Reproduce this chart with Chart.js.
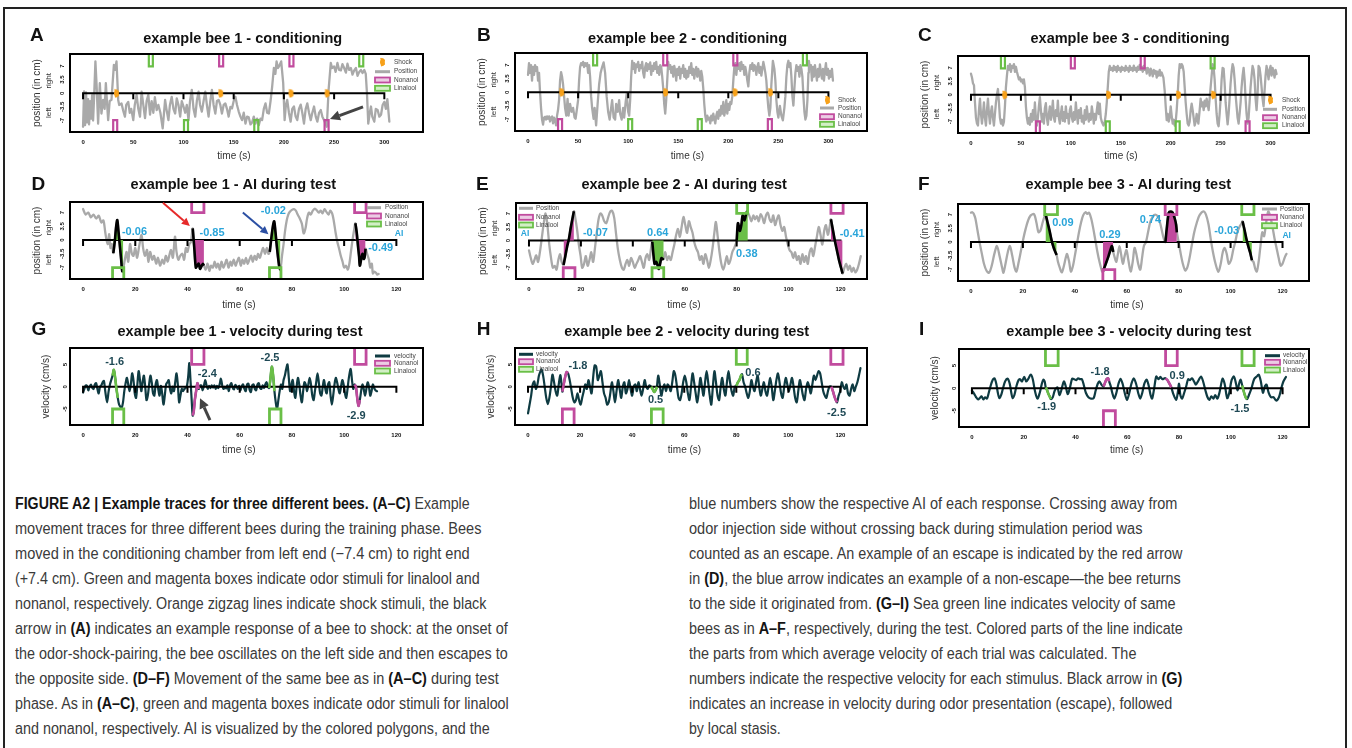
<!DOCTYPE html>
<html><head><meta charset="utf-8">
<script src="https://cdn.jsdelivr.net/npm/chart.js@4.4.0/dist/chart.umd.min.js"></script>
<style>
html,body{margin:0;padding:0;background:#fff;}
#page{position:relative;width:1352px;height:748px;overflow:hidden;font-family:"Liberation Sans",Arial,sans-serif;}
#frame{position:absolute;left:3px;top:7px;width:1344px;height:900px;border:2px solid #222;box-sizing:border-box;}
.cv{position:absolute;}
.cap{position:absolute;white-space:nowrap;font-size:16px;line-height:20px;color:#3a3a3a;transform-origin:0 0;}
.cap b{color:#141414;}
</style></head><body><div id="page"><div id="frame"></div></div>
<script>
// ================= DATA =================
const condXTicks = [0,50,100,150,200,250,300];
const testXTicks = [0,20,40,60,80,100,120];
const posYTicks = [-7,-3.5,0,3.5,7];
const velYTicks = [-5,0,5];

// conditioning position traces [time s, position cm]
const bee1CondPos = [[0,-8.6],[1,0.5],[2,-8.2],[3,0.2],[4,-7.5],[5,-1.5],[6,-8.0],[7,-2],[8,-6.5],[9,-0.5],[10,-7],[11,-1],[12.3,8.2],[13.5,2],[15,-7.8],[16.7,2.6],[18.3,-5.2],[20,-1.7],[21.5,-4],[22.7,2.6],[24,-3],[25,-6.9],[26.5,-2],[28.3,-1.7],[30.7,7.3],[32,6],[33.3,8.2],[35,-1.7],[36,-3],[38.3,-2.6],[40,-4.5],[41.7,-6],[43,-3],[45,-2.2],[46.5,-5],[48,-4],[50,-6.9],[51.5,-3],[53.3,-0.4],[55,-4],[56.7,-6],[58.3,0.4],[60,-3],[61.7,-6.4],[63.3,-2],[65,-0.4],[66.7,-5.5],[68.3,-2],[70,-5],[71.5,-1],[73.3,-4.3],[75,-3],[77,-5],[79.3,-9],[81.7,-1.7],[83,-4],[85,-6.9],[86.5,-3],[88.3,-0.9],[90,-4],[91.7,-5.2],[93.3,-1.3],[95,-3],[96.7,-6],[98.3,-2],[100,-3.4],[101.7,-5],[103.3,-3],[105,-6.9],[106.5,-2],[108.3,0.9],[110,-4],[111.7,-6],[113.3,-2],[115,0.4],[116.5,-3],[118.3,-4.7],[120,-2],[121.7,0.4],[123.3,-3],[125,-6],[126.7,-2],[128.3,0.9],[130,-3],[131.7,-5.2],[133.3,-2],[135,-1.7],[136.7,-3],[138.3,-5.2],[140,-3],[141.7,-2.6],[143.3,-4],[145,-6],[146.7,-3.5],[148.3,-3.9],[150,-2],[151.7,-0.9],[153.3,-3],[155,-4.7],[156.7,-6],[158.3,-6.9],[160,-5],[161.7,-7.8],[163.3,-6],[165,-6.2],[166.7,-8],[168.3,-7.5],[170,-6],[171.7,-7.8],[173.3,-6.5],[175,-8.2],[176.7,-6.5],[178.3,-6.9],[180,-4],[181.7,-2.6],[183.3,-5],[185,-5.2],[186.7,-2],[188.3,1.7],[190,6.5],[191.5,5],[192.7,8.2],[194,6.5],[195.3,7],[197.3,8.2],[199.3,2.6],[200.7,-6.9],[202,-3],[203.3,-1.7],[205,-5],[206.7,-7.3],[208.3,-4],[210,-3.4],[211.7,-6],[213.3,-6.9],[215,-4],[216.7,-2.9],[218.3,-5],[220,-7.8],[221.7,-4],[223.3,-2.6],[225,-5],[226.7,-6.9],[228.3,-5],[230,-3.4],[231.7,-6],[233.3,-7.3],[235,-5],[236.7,-4.3],[238.3,-6],[240,-6.9],[242.7,-8.6],[244.5,0.9],[246.7,7.8],[248,6.5],[250,6.9],[251.5,5.5],[253.3,7.8],[255,6],[256.7,5.9],[258.3,7.5],[260,6.5],[261.7,5.3],[263.3,7.6],[265,6],[266.7,6.5],[268.3,4.8],[270,5.9],[271.7,6.5],[273.3,4.5],[275,5.5],[276.7,6],[278.3,5.2],[280,6.0],[281.5,5],[282.7,0],[284,-7.8],[285.5,-5],[286.7,-3.4],[288,-6],[290,-7.3],[291.5,-4],[293.3,-4.3],[295,-6],[296.7,-5.5],[298.3,-3],[300,-2.2],[301.5,-4],[303,-1.5],[305,-7.3]];
const bee2CondPos = [[0,4.5],[1,7.5],[2,5],[3,7],[4,3],[5,6.5],[6,4.5],[7,7],[8,5.5],[9,6.5],[10,3],[11,5],[12,0],[13,-4],[14,-7],[15,-8.3],[16,-6.5],[17,-6.3],[18,-7],[19,-6.2],[20,-6.8],[21,-6.2],[22,-7.5],[23,-6.5],[24,-6.2],[25,-8],[26,-6.5],[27,-7.2],[28,-8.5],[29,-6],[30,-4.5],[31,-2],[32,3],[33,5.2],[34,4],[35,2],[36,-1],[37,-4],[38.2,-6],[39.5,-1.7],[40.5,-6],[42,-3],[43.5,-5],[45,-4],[46.5,-6.5],[47.5,-6.8],[49,-4],[50,-2],[51,3],[52,6.5],[53,7.5],[54,7],[55,7.8],[56,6.5],[57,7.5],[58,6.8],[59,7.5],[60,5],[61,7],[62,4],[63,-1],[64,-4],[65.5,-6.8],[66.5,-4],[68,-8.5],[69.5,-3],[71,2],[72.5,5],[74,6.5],[75.5,7.7],[77,5],[78.5,-1],[80,-5],[81.5,-7],[83,-4],[84,-2],[85.5,-6.5],[87,-7],[88,-3],[89.5,-5],[91,-2],[92,-5.5],[93.5,-7],[95,-4],[96,-6.5],[97.5,-2.5],[98.5,-0.4],[100,-5],[101,-6],[102,-2],[103,4],[104,8.1],[105,6],[106,7.5],[107,5],[108,7.2],[109,6.5],[110,7.8],[111,5.5],[112,7],[113,6.2],[114,7.8],[115,5],[116,3.8],[117,6.5],[118,7.5],[119,5.5],[120,7.2],[121,6],[122,7.7],[123,4.5],[124,6.8],[125,5.5],[126,7.5],[127,6],[128,7.8],[129,5],[130,6.5],[131,4.5],[132,7],[133,6.5],[134,4],[135,1],[136,-3],[137,-5.5],[138,-2],[139,3],[140,7.8],[141,6],[142,7],[143,5],[144,6.5],[145,4],[146,6.8],[147,5.5],[148,3],[149,6],[150,4.5],[151,6.5],[152,3.5],[153,6],[154,5],[155,7],[156,4],[157,6],[158,3.5],[159,5.5],[160,4],[161,6.5],[162,5],[163,7.5],[164,4.5],[165,6],[166,3.5],[167,5.5],[168,6.5],[169,4],[170,6],[171,5],[172,3],[173,5.5],[174,4],[175,1],[176,-3],[177,-6],[178,-7.5],[179,-6],[180,-7],[181,-6.5],[182,-8],[183,-6],[184,-7.2],[185,-5.5],[186,-6.8],[187,-8],[188,-6],[189,-5],[190,-6.8],[191,-4.5],[192,-6],[193,-3.5],[194,-5.5],[195,-2.5],[196,-6],[197,-4.5],[198,-2],[199,-5.5],[200,-3],[201,-4.5],[202,-2.5],[203,-3],[204,-1],[205,3],[206,6.5],[207,7.5],[208,4.5],[209,7],[210,6],[211,7.5],[212,5.5],[213,7.8],[214,6],[215,7],[216,4.5],[217,6.5],[218,5],[219,3],[220,1.5],[221,5],[222,7],[223,6],[224,7.5],[225,5.5],[226,7],[227,6.5],[228,4.5],[229,6.5],[230,7.5],[231,5],[232,6.5],[233,4.3],[234,6],[235,7.8],[236,6.5],[237,5],[238,3],[239,-1],[240,-4],[241,-6],[242,-4],[243,2],[244.5,8.1],[246,6],[247,3],[248,-2],[249,-5],[250,-6.5],[251.5,-3.5],[253,-6],[254.5,-7.2],[256,-4],[257,-1],[258,4],[259,7],[260,8.1],[261,6.5],[262,7.5],[263,4],[264,-1],[265,-3.4],[266,1],[267,5],[268,7],[269,5.5],[270,6.5],[271,4],[272,7],[273,6],[274,4],[275,-1],[276,-5],[277,-7],[278,-6],[279,-2],[280,5],[280.5,8.1],[281.5,6],[282.5,7],[283.5,3],[284.5,6.5],[285.5,4],[286.5,7],[287.5,5],[288.5,3],[289.5,6],[290.5,4],[291.5,7.2],[292.5,5],[293.5,3.5],[294.5,6],[295.5,3],[296.5,5.5],[297.5,7.5],[298.5,4.5],[299.5,6],[300.5,3.5],[301.5,5.5],[302.5,4],[303.5,6],[304.5,3]];
const bee3CondPos = [[0,5.5],[1,4.5],[2,3],[3,2.5],[4,-2],[5,-6],[6,-7.5],[7,-8],[8,-4],[9,-1],[10,-5],[11,-7.5],[12,-5],[13,-2],[14,-6],[15,-8],[16,-4],[17,-1],[18,-5],[19,-7.5],[20,-4.5],[21,-3],[22,-6],[23,-8],[24,-5],[25,-2],[26,0],[27,1.5],[28,-2],[29,-6],[30,-7.5],[31,-6.5],[32,-8],[33,-7],[34,-3],[35,2],[36,5],[37,7.5],[38,6.5],[39,8],[40,6],[41,7.5],[42,7],[43,8],[44,6],[45,7.3],[46,6],[47,5],[48,4],[49,4.5],[50,3.5],[51,4],[52,3],[53,4],[54,2],[55,-3],[56,-6],[57,-7.5],[58,-6],[59,-7.8],[60,-5],[61,-7],[62,-4],[63,-6.5],[64,-2],[65,-6],[66,-8],[67,-6],[68,-3],[69,-0.6],[70,-4],[71,-7],[72,-5],[73,-7.5],[74,-3.5],[75,-2.2],[76,-6],[77,-7.8],[78,-5],[79,-3],[80,-6.5],[81,-4.5],[82,-1.5],[83,-6],[84,-7],[85,-4],[86,-5.5],[87,-1.5],[88,-6],[89,-7.5],[90,-5],[91,-3],[92,-6.8],[93,-4.5],[94,-7],[95,-3],[96,-6],[97,-5],[98,-7.5],[99,-4],[100,-3],[101,-6],[102,-7],[103,-4.5],[104,-6.5],[105,-2],[106,-5],[107,-7.5],[108,-4],[109,-6],[110,-3.5],[111,-7],[112,-5.5],[113,-7.5],[114,-4],[115,-6.5],[116,-3],[117,-5.5],[118,-7],[119,-5],[120,-6.5],[121,-3],[122,-5],[123,-7.5],[124,-5],[125,-6.5],[126,-4],[127,-2],[128,-5],[129,-2.3],[130,-6],[131,-7],[132.7,-8],[134,-7],[135,-5],[136,-2],[137,2],[138,6],[139,7.5],[140,6.5],[141,7],[142,6.2],[143,7.5],[144,6.5],[145,7.2],[146,6],[147,7.5],[148,6.5],[149,7],[150,6],[151,7.3],[152,6.5],[153,7],[154,6.2],[155,7.5],[156,6.5],[157,7],[158,6],[159,7.5],[160,6.5],[161,7],[162,6.2],[163,7.6],[164,6.5],[165,7],[166,6],[167,7.3],[168,6.5],[169,7.8],[170,6.5],[171,7.2],[172,6],[173,7.5],[174,6.5],[175,7],[176,5.5],[177,7],[178,6.5],[179,5],[180,6.8],[181,6],[182,4.8],[183,6.5],[184,5.5],[185,6.2],[186,4.5],[187,6],[188,5],[189,6.5],[190,5],[191,5.8],[192.7,4.5],[194,1],[195,-3],[196,-6.6],[197,-5],[198,-7],[199,-6],[200,-3],[201,-5.5],[202,-7.5],[203,-6.5],[204,-8],[205,-7],[206,-4],[207,0],[208,5],[209,8],[210,7],[211,8],[212,7.5],[213,6],[214,2],[215,-2],[216,-5],[217,-7.5],[218,-8],[219,-7],[220,-4],[221,-2.3],[222,-4],[223,-6],[224,-8],[225,-7],[226,-5],[227.7,-7.5],[229,-4],[230,-1],[231,-3],[232,-2],[233,-4],[234,-1.5],[235,-3],[236,-1],[237,-2.5],[238,-4],[239,-1],[240,2],[241,5],[242,8],[243,7],[244,4],[245,-1],[246,-5],[247,-7.5],[248,-8.2],[249,-5],[250,-1],[251,4],[252,7],[253,6.8],[254,3],[255,-2],[256,-5],[257,-7.7],[258,-5],[259,-1],[260,3],[261,6],[262,8],[263,7],[264,4],[265,0],[266,-3],[267,-6],[268,-7.5],[269,-5],[270,-2],[271,2],[272,5],[273,7],[274,4],[275,-1],[276,-5],[277,-7.5],[278,-6],[279,-2],[280,2],[281,5],[282,7.5],[283,6.5],[284,4],[285,-1],[286,-4],[287,0],[288,7.5],[289,7],[290,5],[291,2],[292,-1],[293,-3],[294,1],[295,5],[296,7.5],[297,6],[298,4],[299,6.5],[300,7.5],[301,5],[302,7],[303,6],[304,4.5],[305,6.5],[306,5.4]];

// shock times (s)
const bee1CondShocks = [33.3,137,207,243];
const bee2CondShocks = [33.6,137.3,206.8,242];
const bee3CondShocks = [33.7,137.7,207.7,242.7];

// odor stimuli: [start s, end s, odor (N=nonanol, L=linalool), side (+1 right, -1 left)]
const bee1CondStim = [[30,34,'N',-1],[65.5,69.5,'L',1],[100.5,104.5,'L',-1],[135.5,139.5,'N',1],[170.5,174.5,'L',-1],[205.5,209.5,'N',1],[240.5,244.5,'N',-1],[275,279,'L',1]];
const bee2CondStim = [[30,34,'N',-1],[65,69,'L',1],[100,104,'L',-1],[135,139,'N',1],[169.5,173.5,'L',-1],[205,209,'N',1],[239.5,243.5,'N',-1],[274.5,278.5,'L',1]];
const bee3CondStim = [[30,34,'L',1],[65,69,'N',-1],[100,104,'N',1],[135,139,'L',-1],[170,174,'N',1],[205,209,'L',-1],[240,244,'L',1],[275,279,'N',-1]];
const bee1TestStim = [[11.3,15.6,'L',-1],[41.6,46.3,'N',1],[71.4,75.8,'L',-1],[104,108.4,'N',1]];
const bee2TestStim = [[13.2,17.7,'N',-1],[47.4,51.9,'L',-1],[80,84.2,'L',1],[116.3,121,'N',1]];
const bee3TestStim = [[28.4,33.3,'L',1],[50.8,55.4,'N',-1],[74.8,79.3,'N',1],[104.3,109,'L',1]];

// test position traces [time s, position cm]
const bee1TestPos = [[0,7.9],[1,6.5],[2,7],[3,5.8],[4,6.5],[5,5.5],[6,6.2],[7,4.5],[7.8,5],[8.5,2],[9,0],[9.5,-1],[10,1.5],[10.5,-2],[11,-1],[11.6,-3.3],[12.2,0],[12.6,3],[13.1,5.1],[13.6,2],[14.1,-1.5],[14.6,-5],[15.0,-7.9],[15.4,-7.2],[16,-5],[16.7,-3],[17.3,-5.5],[18,-1],[18.7,-3.5],[19.3,-4],[20,-2],[20.7,-4.5],[21.5,-1.5],[22.4,1.3],[23,-2],[23.7,-4],[24.5,-2.5],[25,-5.5],[25.7,-3],[26.5,-5],[27.2,-4],[28,-6],[28.7,-4.5],[29.5,-6.5],[30.3,-5],[31,-6],[31.7,-4],[32.4,-5.5],[33,-4],[33.7,-2.5],[34.4,-4.5],[35.2,0.9],[35.8,-3],[36.5,-5],[37.2,-4],[38,-3.5],[38.7,-5],[39.4,-2],[40,-3],[40.7,-1],[41.3,-0.5],[42.0,3.0],[42.6,-2],[43.2,-7.0],[43.7,-6.5],[44.3,-6],[44.8,-7.3],[45.4,-6.6],[45.9,-6.0],[46.3,-6.5],[47,-7.5],[47.7,-6],[48.4,-7.8],[49,-6.5],[49.7,-7],[50.4,-5.5],[51,-7],[51.7,-6],[52.4,-7.5],[53,-5.5],[53.7,-7],[54.4,-6],[55,-5],[55.7,-7],[56.4,-5.5],[57,-6.5],[57.7,-5],[58.4,-6.5],[59,-5.5],[59.7,-4.5],[60.4,-6.5],[61,-5],[61.7,-6],[62.4,-4.5],[63,-6],[63.7,-5],[64.4,-4],[65,-5.5],[65.7,-4],[66.4,-5],[67,-3.5],[67.7,-4.5],[68.4,-3],[69,-2],[69.7,-3.5],[70.4,-2],[71,-3.5],[71.5,-3],[72.2,1],[72.7,3.5],[73.2,4.8],[73.7,2],[74.2,-1.5],[74.7,-4.5],[75.2,-7.0],[75.6,-7.6],[76.2,-4],[76.8,-1],[77.4,2.5],[78,5],[78.6,6.5],[79.2,7.2],[80,7.7],[80.8,7.9],[81.5,7.5],[82.2,6.5],[83,5.5],[83.8,4.2],[84.5,1.7],[85.2,3],[85.8,5.5],[86.5,7],[87.2,6.5],[88,7.5],[88.8,8],[89.5,7.6],[90.3,7.0],[91,7.5],[91.7,6.8],[92.5,7.9],[93.2,7.2],[94,6.5],[94.7,7.5],[95.4,6.8],[96,5],[96.7,2],[97.4,-0.5],[98,-2],[98.7,-4],[99.4,-5.5],[100,-7],[100.7,-6.5],[101.4,-7.5],[102,-6],[102.6,-3],[103.2,0],[103.8,2.5],[104.3,4.3],[104.8,2],[105.3,-1.5],[105.7,-4],[106.0,-6.5],[106.5,-5],[107.0,-3.5],[107.5,-4.8],[107.8,-4.5],[108.2,-2.2],[108.8,-3.5],[109.5,-5],[110,-7],[110.6,-6],[111,-8.5],[111.6,-8],[112.2,-8.3],[112.7,-8.8],[113.2,-8.6]];
const bee2TestPos = [[0,-2.5],[0.7,-4.5],[1.4,-6],[2.1,-5],[2.8,-3.8],[3.5,-5.5],[4.2,-3],[5,1],[5.7,4.5],[6.4,7],[7.1,4],[7.8,-1],[8.5,-4.5],[9.2,-7],[9.9,-6.5],[10.6,-7.5],[11.3,-5],[12,-3.5],[12.6,-5.5],[13.3,-6.3],[14,-4],[14.7,-1.5],[15.4,0.5],[16,3],[16.7,5.5],[17.3,7.6],[17.8,6],[18.5,3],[19.2,-1],[19.9,-4],[20.5,-7],[21.2,-6],[21.9,-4],[22.6,-6.5],[23.3,-5],[24,-3],[24.7,-5.5],[25.4,-2],[26.1,2],[26.8,5.5],[27.5,7],[28.2,6.5],[29,5],[29.8,4.5],[30.5,6],[31.3,7.5],[32,7.7],[32.8,6],[33.5,2],[34.2,-2],[35,-5],[35.8,-7],[36.5,-7.5],[37.2,-6],[37.9,-5],[38.6,-6.5],[39.3,-4.5],[40,-5.5],[40.7,-7],[41.4,-6],[42.1,-5],[42.8,-4],[43.5,-5.5],[44.2,-7],[44.9,-4.5],[45.6,-3.5],[46.3,-5],[47,-2],[47.5,-0.3],[48.0,-4],[48.4,-6],[49.0,-5.5],[49.6,-6.5],[50.0,-7.3],[50.5,-6],[51.0,-4.5],[51.5,-4.8],[51.9,-4.5],[52.5,-3],[53.2,-5],[53.9,-4],[54.6,-5],[55.3,-3],[56,-1],[56.7,1.5],[57.4,3],[58.1,1],[58.8,3.5],[59.5,6.1],[60.2,4],[60.9,2],[61.6,5],[62.3,3.5],[63,2],[63.7,-0.5],[64.4,-2],[65.1,-3],[65.8,-5],[66.5,-4],[67.2,-6],[67.9,-3.5],[68.6,-5],[69.3,-7],[70,-5],[70.7,-2],[71.4,2],[72,4.8],[72.7,1],[73.4,-3],[74.1,-6],[74.8,-7.5],[75.5,-6],[76.2,-4],[76.9,-6],[77.6,-5],[78.3,-3],[79,-2],[79.6,-1],[80.0,0],[80.5,4.5],[81.2,2.5],[81.8,4],[82.3,6.5],[83.0,5.2],[83.5,6.5],[84.0,7.5],[84.3,7.3],[85,6.2],[85.7,5],[86.4,6.5],[87.1,5.5],[87.8,6.3],[88.5,5],[89.2,6.8],[89.9,6],[90.6,4.5],[91.3,6.5],[92,7.2],[92.7,5.5],[93.4,4.8],[94.1,6.5],[94.8,4],[95.5,5.5],[96.2,6.5],[96.9,4],[97.6,2.5],[98.3,3.5],[99,1],[99.7,-1],[100.4,-2.5],[101.1,-3],[101.8,-4.5],[102.5,-3],[103.2,-5],[103.9,-4],[104.6,-6],[105.3,-3.5],[106,-5.5],[106.7,-4],[107.4,-6],[108.1,-3],[108.8,-2],[109.5,-4],[110.2,-1.5],[110.9,1],[111.6,3.5],[112.3,1.5],[113,-1],[113.7,2.5],[114.4,4],[115.1,1.5],[115.8,3.5],[116.3,5.5],[117,3],[117.8,0],[118.6,-2.5],[119.4,-5],[120.2,-7],[120.8,-8.5],[121.5,-7],[122.2,-6],[122.9,-7.5],[123.6,-6.5],[124.3,-8],[125,-7],[125.7,-8.2],[126.4,-7.5],[127.1,-6],[127.8,-4]];
const bee3TestPos = [[0,7.5],[0.5,7.6],[1,7.3],[1.7,6],[2.5,3],[3.3,0],[4.2,-3],[5,-5.5],[6,-7.3],[7,-7.8],[8,-6],[9,-3],[10,-1],[11,-3.5],[12,-6.5],[12.5,-7.8],[13.3,-5.5],[14.2,-2.5],[15,-1],[15.9,-3.5],[16.8,-6.5],[17.5,-7.5],[18.4,-5],[19.3,-2],[20.2,1],[21.1,3.5],[22,5.5],[23,6.8],[24.3,7.1],[25.2,5],[26,2.5],[26.8,3],[27.6,5],[28.3,6.5],[28.7,7.2],[29.5,5],[30.3,2.8],[31.1,0.3],[31.9,-1.5],[32.5,-2.5],[33.0,-3.3],[33.5,-5],[34.2,-6.5],[35,-7.7],[35.8,-6],[36.5,-4],[37,-3],[37.8,-5],[38.5,-7.5],[39.3,-6],[40,-3.5],[40.8,-0.5],[41.6,2.5],[42.4,5],[43.2,6.8],[44.1,7.6],[44.8,7.2],[45.5,7.5],[46.3,6],[47.1,3.5],[47.9,0.5],[48.7,-2.5],[49.5,-5],[50.5,-7.5],[50.8,-7.5],[51.5,-6.3],[52.2,-5],[53,-3.5],[53.7,-2],[54.3,-1.0],[54.8,-2.5],[55.4,-4],[56,-5],[56.6,-3],[57.2,-1],[57.8,-3],[58.5,-5.5],[59.2,-3.5],[59.9,-2],[60.6,-4.5],[61.5,-7.5],[62.3,-5],[63,-1.5],[63.7,-3],[64.4,-5.5],[65.2,-7],[65.9,-4],[66.6,-1],[67.4,0],[68.2,2.5],[69,5],[70,6.5],[71,7],[72,6.5],[72.8,5],[73.5,3],[74.2,1],[74.9,0],[75.5,4],[76.2,7.5],[77,7.8],[77.7,7.5],[78.4,6.2],[79,4.5],[79.3,2.5],[80,0],[80.8,-3],[81.6,-5.5],[82.5,-7.2],[83.3,-6.5],[84.2,-4],[85,-1],[86,2.5],[87,5],[88,6.8],[89.5,7.8],[90.5,7],[91.5,4.5],[92.3,1],[93.2,-2.5],[94.2,-5.5],[95.3,-7.6],[96.2,-5.5],[97,-2.5],[97.7,-1.5],[98.5,-3],[99.3,-5.5],[100.2,-4.5],[101,-2],[101.8,0],[102.6,2.5],[103.5,4],[104.3,4.8],[104.6,5.3],[105.4,3],[106.2,0.5],[107,-1.5],[107.6,-2.8],[108.2,-4.6],[108.8,-5],[109.5,-6.8],[110.1,-7.5],[110.8,-5],[111.5,-1],[112.2,2.5],[112.9,1.5],[113.7,5],[114.5,7.8],[115.3,6.5],[116.1,4],[116.9,1],[117.7,-1.5],[118.5,-4],[119.3,-6],[120,-5.5],[120.8,-4],[121.5,-3]];

// AI windows [start, end] and AI values
const bee1AIWin = [[11.5,15.4],[42,46.3],[71.5,75.6],[104.3,108.2]];
const bee2AIWin = [[13.3,17.3],[47.5,51.9],[80,84.3],[116.3,120.8]];
const bee3AIWin = [[28.7,33],[50.8,54.8],[74.9,79.3],[104.6,108.2]];
const bee1AI = [-0.06,-0.85,-0.02,-0.49];
const bee2AI = [-0.07,0.64,0.38,-0.41];
const bee3AI = [0.09,0.29,0.74,-0.03];

// test velocity traces [time s, velocity cm/s]
const bee1TestVel = [[0,-1.3],[0.5,-0.5],[1,0.3],[1.5,0.2],[2,-0.8],[2.5,0],[3,0.5],[3.5,-0.2],[4,-0.5],[4.5,0.5],[5,0.8],[5.5,-0.5],[6,-1.5],[6.5,0],[7,0.3],[7.5,1],[8,1.3],[8.5,-1],[9.2,-3.5],[9.8,-1],[10.3,0.5],[10.8,1.5],[11.3,2.5],[11.8,3.8],[12.3,2],[12.8,-0.5],[13.3,-2.5],[13.8,-4],[14.3,-4.5],[14.8,-4.7],[15.3,-3.5],[15.8,-1],[16.3,0.8],[16.8,2],[17.3,0.5],[17.8,-1],[18.3,0.5],[18.8,3],[19.3,1.5],[19.8,-1.5],[20.3,-2.5],[20.8,0.5],[21.3,3.5],[21.8,1.5],[22.3,-1],[22.8,1],[23.3,2.5],[23.8,0],[24.3,-3],[24.8,-2],[25.3,0.5],[25.8,2.5],[26.3,1],[26.8,-1.5],[27.3,-2],[27.8,0.5],[28.3,1.5],[28.8,-0.5],[29.3,-2],[29.8,0.2],[30.3,-1.5],[30.8,-4],[31.3,-2],[31.8,0.5],[32.3,1],[32.8,1.5],[33.3,-0.5],[33.8,-1.5],[34.3,0],[34.8,-1],[35.3,1],[35.8,3],[36.3,0.5],[36.8,-3.5],[37.3,-2],[37.8,-0.5],[38.3,-1],[38.8,-0.5],[39.3,-0.3],[39.8,0.2],[40.3,2.5],[40.7,5.3],[41.2,1],[41.6,-3],[42,-6.5],[42.4,-5.5],[42.8,-3],[43.3,-1],[43.8,0.8],[44.3,-0.5],[44.8,0.2],[45.3,0.3],[45.8,-0.8],[46.3,0.2],[46.8,1.5],[47.3,0.3],[47.8,-0.5],[48.3,0.2],[48.8,-0.3],[49.3,0.3],[49.8,-0.2],[50.3,0.3],[50.8,-0.5],[51.3,0.2],[51.8,-0.3],[52.3,0.5],[52.8,1.8],[53.3,0.3],[53.8,-0.5],[54.3,0],[54.8,-0.4],[55.3,0.3],[55.8,-1],[56.3,0.3],[56.8,0.8],[57.3,-0.2],[57.8,-0.6],[58.3,0.4],[58.8,0],[59.3,-0.5],[59.8,0.2],[60.3,-0.8],[60.8,0.2],[61.3,0.5],[61.8,-0.5],[62.3,-1],[62.8,0.5],[63.3,0.7],[63.8,-0.7],[64.3,-1.2],[64.8,0.3],[65.3,0.5],[65.8,-0.5],[66.3,-0.8],[66.8,0.5],[67.3,0.8],[67.8,-0.3],[68.3,-0.5],[68.8,0.3],[69.3,-0.3],[69.8,0.5],[70.3,1],[70.8,0],[71.3,-0.3],[71.8,2],[72.3,4.5],[72.8,2.5],[73.3,-1],[73.8,-3.5],[74.3,-5],[74.8,-3],[75.3,-1],[75.8,0.5],[76.3,-0.5],[76.8,1.5],[77.3,2.5],[77.8,4],[78.3,5],[78.8,2],[79.3,-1],[79.8,0.5],[80.3,1.5],[80.8,-1],[81.3,-2.5],[81.8,0],[82.3,2],[82.8,0.5],[83.3,-2],[83.8,-3.5],[84.3,-1],[84.8,1],[85.3,0.5],[85.8,-1],[86.3,0.5],[86.8,2],[87.3,0.5],[87.8,-2],[88.3,-3],[88.8,-1],[89.3,1],[89.8,3],[90.3,1],[90.8,-1.5],[91.3,-2],[91.8,0],[92.3,1.5],[92.8,-0.5],[93.3,-1.5],[93.8,0.5],[94.3,1],[94.8,-2],[95.3,-4],[95.8,-2],[96.3,0.5],[96.8,2],[97.3,1],[97.8,-0.5],[98.3,-1.5],[98.8,0],[99.3,1.5],[99.8,0.5],[100.3,-1.5],[100.8,-2.5],[101.3,-0.5],[101.8,2],[102.5,4],[103,1.5],[103.5,-0.5],[104,0.5],[104.5,0],[105,-2.5],[105.5,-4.3],[106,-3],[106.5,-1],[107,0.5],[107.5,-0.5],[108,-2],[108.5,-0.5],[109,1],[109.5,0],[110,-2],[110.5,-1],[111,0.5],[111.5,-0.3],[112,-0.8],[112.6,-1]];
const bee2TestVel = [[0,-6],[0.6,-4],[1.2,-2],[1.8,0.5],[2.4,1.2],[3,-0.5],[3.6,0.5],[4.2,2.5],[4.8,3.5],[5.2,3.9],[5.8,2.5],[6.4,0],[7,-2.5],[7.6,-3.9],[8.2,-2.5],[8.8,0],[9.4,2.7],[10,1],[10.6,-1],[11.2,-2],[11.8,0.5],[12.4,2.6],[12.8,1],[13.2,-1.1],[13.7,0.5],[14.2,2],[14.8,3.3],[15.4,3],[16,1.5],[16.6,-0.5],[17.2,-2.5],[17.8,-3.5],[18.4,-3],[19,-1.5],[19.6,-3],[20.2,-4],[20.8,-2.5],[21.4,-1],[22,0.5],[22.6,-0.5],[23.2,1.5],[23.8,0],[24.4,-1.5],[25,2],[25.6,4.8],[26.2,4.5],[26.8,1.5],[27.4,2.5],[28,3.5],[28.6,1],[29.2,-1.5],[29.8,-2.5],[30.4,-4],[31,-3.5],[31.6,-1.5],[32.2,1],[32.8,-1],[33.4,-3.5],[34,-1],[34.6,1.5],[35.2,-0.5],[35.8,-2.5],[36.4,0],[37,1],[37.6,-1.5],[38.2,-0.5],[38.8,1.5],[39.4,-0.5],[40,-2],[40.6,0],[41.2,0.5],[41.8,-1],[42.4,1],[43,-0.5],[43.6,-2],[44.2,-0.5],[44.8,1.5],[45.4,0],[46,-0.5],[46.6,0.3],[47.3,0],[47.9,-0.6],[48.5,-1.2],[49,-0.8],[49.5,0],[50,2.5],[50.6,0.5],[51.2,-2],[51.8,-0.5],[52.4,0.5],[53,-1],[53.6,0.5],[54.2,0],[54.8,-1],[55.4,1],[56,3.5],[56.6,2.5],[57.2,0],[57.8,-2.5],[58.4,-3],[59,-1.5],[59.6,1],[60.2,2.5],[60.8,1],[61.4,-1.5],[62,-3],[62.6,0],[63.2,3],[63.8,1],[64.4,-1.5],[65,-3.5],[65.6,-1],[66.2,2],[66.8,0],[67.4,-2],[68,1],[68.6,3.5],[69.2,1],[69.8,-2],[70.4,-4],[71,0],[71.6,3.5],[72.2,1],[72.8,-2],[73.4,-3],[74,0],[74.6,2],[75.2,-0.5],[75.8,-2],[76.4,1],[77,3.5],[77.6,1],[78.2,-1],[78.8,-2],[79.4,0],[80,0.2],[80.6,1],[81.2,1.5],[81.8,2.5],[82.2,2.8],[82.8,1],[83.4,0],[84,-1.5],[84.6,-2.5],[85.2,-1],[85.8,1.5],[86.4,0],[87,-1],[87.6,1],[88.2,2.5],[88.8,0],[89.4,-2],[90,-0.5],[90.6,1],[91.2,-1],[91.8,-2],[92.4,0],[93,2],[93.6,0],[94.2,-3],[94.8,-1],[95.4,1.5],[96,3],[96.6,1],[97.2,-1.5],[97.8,-2.5],[98.4,0],[99,2],[99.6,0.5],[100.2,-1],[100.8,0.5],[101.4,2],[102,0],[102.6,-2.5],[103.2,-3.5],[103.8,-1],[104.4,1.5],[105,0],[105.6,-2],[106.2,-3],[106.8,-0.5],[107.4,1],[108,0],[108.6,-1.5],[109.2,0.5],[109.8,2.5],[110.4,1.5],[111,2.5],[111.6,3.5],[112.2,3],[112.8,1],[113.4,-1],[114,-2],[114.6,-2.5],[115.2,-1],[115.8,0],[116.5,0],[117.1,-1],[117.7,-2.2],[118.2,-3],[118.7,-3.5],[119.3,-2],[119.9,-1],[120.5,1],[121.1,0],[121.7,-0.5],[122.3,0.5],[122.9,-1.5],[123.5,-2],[124.1,-0.5],[124.7,0.5],[125.3,-1],[125.9,0],[126.5,1],[127.1,2.5],[127.7,4.2]];
const bee3TestVel = [[0,-0.5],[0.8,-1.2],[1.6,-2],[2.4,-2.5],[3,-2.2],[3.7,-1.8],[4.4,-2.5],[5.1,-2],[5.8,-2.3],[6.5,-1],[7.2,0.5],[8,1.8],[8.7,2.2],[9.4,1],[10,-1],[10.6,-2.2],[11.3,-1.5],[12,0],[12.8,1.5],[13.8,2.1],[14.6,1],[15.2,-1],[15.7,-2.2],[16.4,-1.5],[17.2,0.5],[18,1.8],[18.6,2],[19.3,1.5],[20.2,2.5],[21,1.5],[21.7,2],[22.7,3],[23.5,2],[24.3,-0.5],[25.3,-2.3],[26.2,-1],[27,1],[27.6,1.9],[28.1,1.5],[28.5,0.2],[29,-0.4],[29.5,-1.2],[30,-1.8],[30.5,-2.4],[31.2,-2],[32,-0.5],[33,0.2],[33.8,-1.5],[34.5,-0.5],[35.5,1.5],[36.2,0.5],[37,-1.3],[37.8,0],[38.7,2.1],[39.5,2],[40.3,1.8],[41,2.2],[41.8,2],[42.5,2],[43.3,0.5],[44,-1],[45,-2],[46,-2.3],[47,-2.2],[47.8,-0.5],[48.6,1],[49.3,1.5],[50,0.8],[50.8,0.4],[51.4,1.2],[52,2],[52.6,2.2],[53,1.5],[53.6,0.5],[54.2,-1],[55,-2.3],[55.8,-1],[56.6,1],[57.4,2.1],[58.2,1],[59,-1],[59.9,-2.6],[60.8,-1],[61.6,1],[62.5,2.2],[63.4,1],[64.2,-1],[65,-2.3],[65.8,-1],[66.6,1],[67.5,1.9],[68.3,0.5],[69,-1.5],[69.6,-2.3],[70.4,0],[71.2,2.6],[72,2],[72.8,2.5],[73.6,2],[74.4,2.2],[74.8,2.2],[75.5,1.8],[76.3,1],[77,0.2],[77.8,-1.3],[78.9,-2.6],[79.5,-1],[80,1],[80.5,-1.5],[81.2,-2.3],[82,-1],[82.8,0.5],[83.5,2],[84.2,1.8],[85,2.2],[85.8,1.5],[86.5,0.8],[87.3,1.5],[88.5,2.6],[89.3,1.5],[90.2,-0.5],[91,-2],[91.7,-2.6],[92.5,-1.8],[93.3,-2.3],[94,-1.5],[94.8,-2.3],[95.6,-1],[96.8,2.1],[97.6,1],[98.6,-2.2],[99.4,-1],[100.3,1.8],[101.2,2.6],[102,1],[102.6,-0.5],[103.2,1],[103.8,1.9],[104.4,0.6],[104.9,-0.5],[105.4,-1.5],[105.9,-2.2],[106.3,-2.4],[107,-1.5],[108,0],[109,2],[110,2.6],[110.8,3],[111.6,1.5],[112.4,-1],[113.2,0.5],[113.8,0.8],[114.6,-1],[115.5,-2],[116.5,-2],[117.3,-2.6],[117.8,-2.7],[118.6,-2],[119.5,0],[120.3,1.5],[121.3,2.5]];

// velocity windows [start, end] and mean velocities
const bee1VelWin = [[11.3,13.3],[42,44.3],[71.3,73.3],[104,106]];
const bee2VelWin = [[13.2,15.4],[47.3,49.5],[80,82.2],[116.5,118.7]];
const bee3VelWin = [[28.5,30.5],[50.8,53],[74.8,77],[104.4,106.3]];
const bee1Vel = [-1.6,-2.4,-2.5,-2.9];
const bee2Vel = [-1.8,0.5,0.6,-2.5];
const bee3Vel = [-1.9,-1.8,0.9,-1.5];

// ================= STYLE / LAYOUT =================
const FF = '"Liberation Sans", Arial, Helvetica, sans-serif';
Chart.defaults.font.family = FF;
const GRAY='#a9a9a9', MAG='#c14b9e', GRN='#6abf47', ORG='#f7a11a', VEL='#0f3b42', AIBLUE='#2aa5da', VLBL='#1f4955';
const MAGL='#eccbe4', GRNL='#d2efc5';

// orange shock marker (small zig-zag blob)
const ZZ = document.createElement('canvas'); ZZ.width = 7; ZZ.height = 10;
(function(){ const c = ZZ.getContext('2d');
  c.fillStyle = ORG; c.beginPath(); c.ellipse(3.5,5,2.4,3.8,0,0,Math.PI*2); c.fill();
  c.strokeStyle = ORG; c.lineWidth = 1.6; c.lineJoin='round'; c.lineCap='round';
  c.beginPath(); c.moveTo(2,1.6); c.lineTo(5.2,3.4); c.lineTo(1.8,5.2); c.lineTo(5.2,7); c.lineTo(2.6,8.6); c.stroke(); })();

const rows = {
  cond:{titleY:39.3, letterY:36, timeY:156.7, xr:[-13,338.5], yr:[-9.95,10.1], xticks:condXTicks, yticks:posYTicks, boxIn:6.9},
  ai:  {titleY:185, letterY:184.5, timeY:305, xr:[-5,130.2], yr:[-9.9,9.7], xticks:testXTicks, yticks:posYTicks, boxIn:7.0},
  vel: {titleY:331.7, letterY:330, timeY:450, xr:[-5,130.2], yr:[-8.6,8.7], xticks:testXTicks, yticks:velYTicks, boxIn:5.0}
};
const LG_C = ['Shock','Position','Nonanol','Linalool'], LG_A = ['Position','Nonanol','Linalool'], LG_V = ['velocity','Nonanol','Linalool'];

const panels = [
 {letter:'A', kind:'cond', title:'example bee 1 - conditioning', box:[70,54,423,132], trace:bee1CondPos, stim:bee1CondStim, shocks:bee1CondShocks,
  titleX:242.7, letterX:30, timeX:234, legend:{sx:375,sw:15,tx:394,ys:[62,71.7,80,88.3],items:LG_C},
  arrows:[{from:[278.8,-3.5], to:[245.9,-6.6], color:'#444', lw:3, hl:10, hw:5}]},
 {letter:'B', kind:'cond', title:'example bee 2 - conditioning', box:[515,53,867,131], trace:bee2CondPos, stim:bee2CondStim, shocks:bee2CondShocks,
  titleX:687.5, letterX:477, timeX:687.5, legend:{sx:820,sw:14,tx:838,ys:[100,108,116.7,124.3],items:LG_C}},
 {letter:'C', kind:'cond', title:'example bee 3 - conditioning', box:[958,56,1309,133], trace:bee3CondPos, stim:bee3CondStim, shocks:bee3CondShocks,
  titleX:1130, letterX:918, timeX:1121, legend:{sx:1263,sw:14,tx:1282,ys:[100.3,109.3,117.7,125.7],items:LG_C}},
 {letter:'D', kind:'ai', title:'example bee 1 - AI during test', box:[70,202,423,279], trace:bee1TestPos, stim:bee1TestStim, win:bee1AIWin, vals:bee1AI,
  labelAt:[[19.7,2.1],[49.4,1.7],[72.9,7.5],[114,-2.1]],
  titleX:233.3, letterX:31.5, timeX:239, legend:{sx:367,sw:14,tx:385,ys:[207.7,216,224],items:LG_A, ai:[399,234]},
  arrows:[{from:[30.6,9.5], to:[40.9,3.6], color:'#e62a2a', lw:2, hl:8, hw:4},{from:[61.2,7.0], to:[71.0,1.5], color:'#2b4fa3', lw:2, hl:8, hw:4}]},
 {letter:'E', kind:'ai', title:'example bee 2 - AI during test', box:[516,203,867,279], trace:bee2TestPos, stim:bee2TestStim, win:bee2AIWin, vals:bee2AI,
  labelAt:[[25.6,1.9],[49.6,2.1],[83.9,-3.5],[124.5,1.7]],
  titleX:684.2, letterX:476, timeX:684, legend:{sx:519,sw:14,tx:536,ys:[208.3,217.3,225],items:LG_A, ai:[525,233.3]}},
 {letter:'F', kind:'ai', title:'example bee 3 - AI during test', box:[958,204,1309,281], trace:bee3TestPos, stim:bee3TestStim, win:bee3AIWin, vals:bee3AI,
  labelAt:[[35.4,4.9],[53.5,1.7],[69.1,5.6],[98.5,2.9]],
  titleX:1128.3, letterX:918, timeX:1126.8, legend:{sx:1262,sw:15,tx:1280,ys:[209,217.3,225.7],items:LG_A, ai:[1286.7,236]}},
 {letter:'G', kind:'vel', title:'example bee 1 - velocity during test', box:[70,348,423,425], trace:bee1TestVel, stim:bee1TestStim, win:bee1VelWin, vals:bee1Vel,
  labelAt:[[12.1,5.6],[47.6,2.8],[71.6,6.4],[104.6,-6.5]],
  titleX:240, letterX:31.5, timeX:239, legend:{sx:375,sw:15,tx:394,ys:[356,363.3,371],items:LG_V},
  arrows:[{from:[48.6,-7.5], to:[44.8,-2.6], color:'#444', lw:3, hl:10, hw:5}]},
 {letter:'H', kind:'vel', title:'example bee 2 - velocity during test', box:[515,348,867,425], trace:bee2TestVel, stim:bee2TestStim, win:bee2VelWin, vals:bee2Vel,
  labelAt:[[19.2,4.6],[49,-3],[86.4,3.1],[118.5,-5.8]],
  titleX:686.7, letterX:476.7, timeX:684.5, legend:{sx:519,sw:14,tx:536,ys:[354.3,361.7,369.3],items:LG_V}},
 {letter:'I', kind:'vel', title:'example bee 3 - velocity during test', box:[959,349,1309,427], trace:bee3TestVel, stim:bee3TestStim, win:bee3VelWin, vals:bee3Vel,
  labelAt:[[28.9,-4.1],[49.5,3.6],[79.3,2.8],[103.5,-4.6]],
  titleX:1128.8, letterX:919, timeX:1126.7, legend:{sx:1265,sw:15,tx:1283,ys:[355.7,362.3,370],items:LG_V}}
];

// ================= DRAW =================
const page = document.getElementById('page');
const PADL=72, PADT=48, PADR=36, PADB=44, YW=22, XH=24;
const toXY = a => a.map(d => ({x:d[0], y:d[1]}));
const inWin = (a, w) => a.filter(d => d[0] >= w[0]-1e-9 && d[0] <= w[1]+1e-9);

function txt(ctx, s, x, y, font, color, align, rot){
  ctx.save(); ctx.translate(x,y); if (rot) ctx.rotate(rot);
  ctx.font = font; ctx.fillStyle = color; ctx.textAlign = align||'center'; ctx.textBaseline='middle';
  ctx.fillText(s,0,0); ctx.restore();
}
function arrow(ctx,x1,y1,x2,y2,color,lw,hl,hw){
  const a = Math.atan2(y2-y1,x2-x1), bx = x2-hl*Math.cos(a), by = y2-hl*Math.sin(a);
  ctx.save(); ctx.strokeStyle=color; ctx.fillStyle=color; ctx.lineWidth=lw; ctx.lineCap='butt';
  ctx.beginPath(); ctx.moveTo(x1,y1); ctx.lineTo(bx,by); ctx.stroke();
  ctx.beginPath(); ctx.moveTo(x2,y2); ctx.lineTo(bx+hw*Math.sin(a), by-hw*Math.cos(a)); ctx.lineTo(bx-hw*Math.sin(a), by+hw*Math.cos(a)); ctx.closePath(); ctx.fill();
  ctx.restore();
}

function makePanel(p){
  const r = rows[p.kind];
  const [L,T,R,B] = p.box;
  const ox = L-PADL, oy = T-PADT, W = R-L+PADL+PADR, H = B-T+PADT+PADB;
  const c = document.createElement('canvas');
  c.width = W; c.height = H; c.className='cv';
  c.style.left = ox+'px'; c.style.top = oy+'px'; c.style.width = W+'px'; c.style.height = H+'px';
  page.appendChild(c);
  const isCond = p.kind==='cond', isVel = p.kind==='vel';
  const tension = isCond ? 0 : 0.3;
  const ds = [];
  ds.push({data:toXY(p.trace), borderColor:isVel?VEL:GRAY, borderWidth:isVel?2.2:2.3, pointRadius:0, tension, order:10, borderJoinStyle:'round', borderCapStyle:'round', fill:false});
  if (p.win) p.win.forEach((w,i) => {
    const col = p.stim[i][2]==='N' ? MAG : GRN;
    if (p.kind==='ai') ds.push({data:toXY(inWin(p.trace,w)), borderColor:'#000', borderWidth:2.6, pointRadius:0, tension, order:5, borderJoinStyle:'round', fill:{value:0}, backgroundColor:col});
    else ds.push({data:toXY(inWin(p.trace,w)), borderColor:col, borderWidth:2.6, pointRadius:0, tension, order:5, borderJoinStyle:'round', fill:false});
  });
  p.stim.forEach(s => {
    const [t0,t1,od,side] = s;
    const yin = side>0 ? r.boxIn : -r.boxIn, yout = side>0 ? 40 : -40;
    ds.push({data:[{x:t0,y:yout},{x:t0,y:yin},{x:t1,y:yin},{x:t1,y:yout}], borderColor: od==='N'?MAG:GRN, borderWidth:isCond?2.2:2.8, pointRadius:0, tension:0, order:3, borderJoinStyle:'miter', fill:false});
  });
  if (isCond) ds.push({data:p.shocks.map(t=>({x:t,y:0})), showLine:false, pointStyle:ZZ, pointRadius:5, order:1});

  const plug = {
    id:'deco'+p.letter,
    afterDatasetDraw(chart,args){
      if (args.index!==0) return;
      const ctx = chart.ctx, xs = chart.scales.x, ys = chart.scales.y, y0 = ys.getPixelForValue(0);
      ctx.save(); ctx.strokeStyle='#000'; ctx.lineWidth=2;
      ctx.beginPath();
      ctx.moveTo(xs.getPixelForValue(r.xticks[0])-1, y0); ctx.lineTo(xs.getPixelForValue(r.xticks[r.xticks.length-1])+1, y0);
      r.xticks.forEach(v => { const x = xs.getPixelForValue(v); ctx.moveTo(x,y0); ctx.lineTo(x,y0+6); });
      ctx.stroke(); ctx.restore();
    },
    afterDraw(chart){
      const ctx = chart.ctx, A = chart.chartArea, xs = chart.scales.x, ys = chart.scales.y;
      const X = t => xs.getPixelForValue(t), Y = v => ys.getPixelForValue(v);
      ctx.save();
      ctx.strokeStyle='#000'; ctx.lineWidth=2; ctx.strokeRect(A.left, A.top, A.right-A.left, A.bottom-A.top);
      txt(ctx, p.letter, p.letterX-ox, r.letterY-oy, 'bold 19px '+FF, '#111', 'left');
      txt(ctx, p.title, p.titleX-ox, r.titleY-oy, 'bold 14.5px '+FF, '#111', 'center');
      txt(ctx, 'time (s)', p.timeX-ox, r.timeY-oy, '10px '+FF, '#333', 'center');
      const ym = (A.top+A.bottom)/2;
      if (isVel) txt(ctx, 'velocity (cm/s)', A.left-24, ym, '10px '+FF, '#333', 'center', -Math.PI/2);
      else {
        txt(ctx, 'position (in cm)', A.left-32.5, ym, '10px '+FF, '#333', 'center', -Math.PI/2);
        txt(ctx, 'right', A.left-21, Y(3.2), '8px '+FF, '#333', 'center', -Math.PI/2);
        txt(ctx, 'left', A.left-21, Y(-5.0), '8px '+FF, '#333', 'center', -Math.PI/2);
      }
      if (p.vals) p.vals.forEach((v,i) => {
        const s = p.kind==='ai' ? v.toFixed(2) : v.toFixed(1);
        txt(ctx, s, X(p.labelAt[i][0]), Y(p.labelAt[i][1]), 'bold 11px '+FF, p.kind==='ai'?AIBLUE:VLBL, 'center');
      });
      (p.arrows||[]).forEach(a => arrow(ctx, X(a.from[0]), Y(a.from[1]), X(a.to[0]), Y(a.to[1]), a.color, a.lw, a.hl, a.hw));
      const lg = p.legend;
      lg.items.forEach((it,i) => {
        const y = lg.ys[i]-oy, sx = lg.sx-ox, sw = lg.sw;
        if (it==='Shock') ctx.drawImage(ZZ, Math.round(sx+sw/2-ZZ.width/2), Math.round(y-ZZ.height/2));
        else if (it==='Position' || it==='velocity') {
          ctx.strokeStyle = it==='Position'?GRAY:VEL; ctx.lineWidth=3; ctx.beginPath(); ctx.moveTo(sx,y); ctx.lineTo(sx+sw,y); ctx.stroke();
        } else {
          const col = it==='Nonanol'?MAG:GRN;
          ctx.fillStyle = it==='Nonanol'?MAGL:GRNL; ctx.fillRect(sx, y-2.5, sw, 5);
          ctx.strokeStyle = col; ctx.lineWidth = 1.8; ctx.strokeRect(sx, y-2.5, sw, 5);
        }
        txt(ctx, it, lg.tx-ox, y, '6.5px '+FF, '#444', 'left');
      });
      if (lg.ai) txt(ctx, 'AI', lg.ai[0]-ox, lg.ai[1]-oy, 'bold 8.5px '+FF, AIBLUE, 'center');
      ctx.restore();
    }
  };

  new Chart(c, {
    type:'line',
    data:{datasets:ds},
    options:{
      responsive:false, animation:false, devicePixelRatio:1, events:[],
      layout:{padding:{left:PADL-YW, top:PADT, right:PADR, bottom:PADB-XH}},
      scales:{
        x:{type:'linear', min:r.xr[0], max:r.xr[1],
           afterBuildTicks:s=>{ s.ticks = r.xticks.map(v=>({value:v})); },
           afterFit:s=>{ s.height = XH; },
           grid:{display:false, drawTicks:false}, border:{display:false},
           ticks:{autoSkip:false, maxRotation:0, padding:6.8, color:'#111', font:{size:6, weight:'bold'}, callback:v=>String(v)}},
        y:{type:'linear', min:r.yr[0], max:r.yr[1],
           afterBuildTicks:s=>{ s.ticks = r.yticks.map(v=>({value:v})); },
           afterFit:s=>{ s.width = YW; },
           grid:{display:false, drawTicks:false}, border:{display:false},
           ticks:{autoSkip:false, minRotation:90, maxRotation:90, crossAlign:'center', padding:isVel?2.3:2.8, color:'#111', font:{size:6, weight:'bold'}, callback:v=>String(v)}}
      },
      plugins:{legend:{display:false}, tooltip:{enabled:false}, title:{display:false}}
    },
    plugins:[plug]
  });
}
panels.forEach(makePanel);

// ================= CAPTION =================
const capL = [
 '<b>FIGURE A2 | Example traces for three different bees. (A–C)</b> Example',
 'movement traces for three different bees during the training phase. Bees',
 'moved in the conditioning chamber from left end (−7.4 cm) to right end',
 '(+7.4 cm). Green and magenta boxes indicate odor stimuli for linalool and',
 'nonanol, respectively. Orange zigzag lines indicate shock stimuli, the black',
 'arrow in <b>(A)</b> indicates an example response of a bee to shock: at the onset of',
 'the odor-shock-pairing, the bee oscillates on the left side and then escapes to',
 'the opposite side. <b>(D–F)</b> Movement of the same bee as in <b>(A–C)</b> during test',
 'phase. As in <b>(A–C)</b>, green and magenta boxes indicate odor stimuli for linalool',
 'and nonanol, respectively. AI is visualized by the colored polygons, and the'];
const capR = [
 'blue numbers show the respective AI of each response. Crossing away from',
 'odor injection side without crossing back during stimulation period was',
 'counted as an escape. An example of an escape is indicated by the red arrow',
 'in <b>(D)</b>, the blue arrow indicates an example of a non-escape—the bee returns',
 'to the side it originated from. <b>(G–I)</b> Sea green line indicates velocity of same',
 'bees as in <b>A–F</b>, respectively, during the test. Colored parts of the line indicate',
 'the parts from which average velocity of each trial was calculated. The',
 'numbers indicate the respective velocity for each stimulus. Black arrow in <b>(G)</b>',
 'indicates an increase in velocity during odor presentation (escape), followed',
 'by local stasis.'];
const capLW = [454.7,466.4,454.7,464.7,471.4,492.7,492.7,483.7,493.7,474.7];
const capRW = [488.4,453.4,493.4,491.7,486.7,493.7,447.4,493.4,483.4,91.7];
function addCap(lines, x, widths){
  lines.forEach((h,i) => {
    const d = document.createElement('div'); d.className='cap'; d.innerHTML = h;
    d.style.left = x+'px'; d.style.top = (509 + 25*i - 15.5)+'px';
    page.appendChild(d);
    const w = d.getBoundingClientRect().width;
    d.style.transform = 'scaleX('+(widths[i]/w).toFixed(4)+')';
  });
}
addCap(capL, 15.3, capLW);
addCap(capR, 689.3, capRW);
</script></body></html>
